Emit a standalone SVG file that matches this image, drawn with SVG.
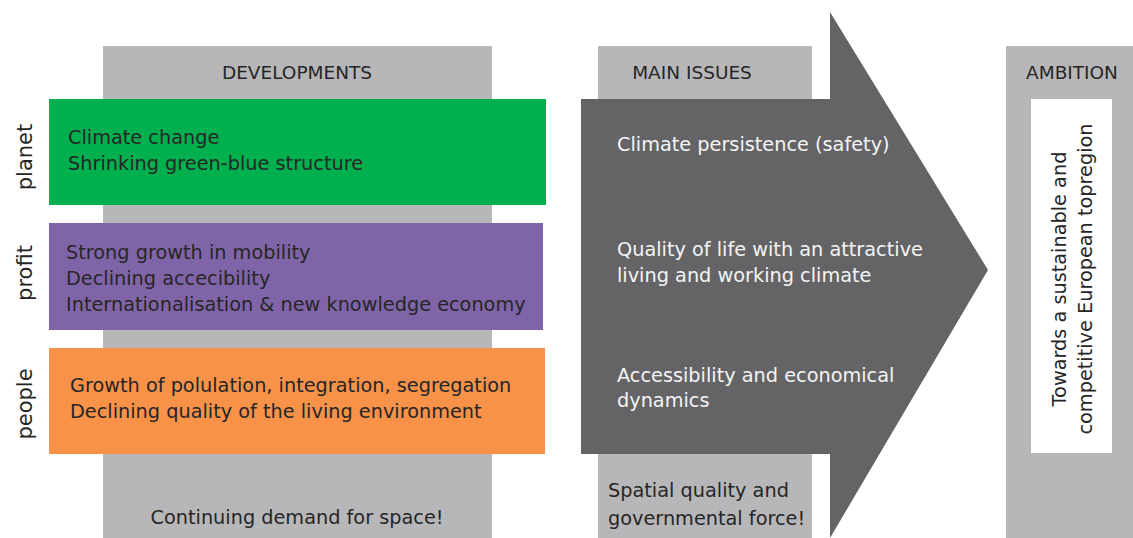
<svg xmlns="http://www.w3.org/2000/svg" width="1133" height="538" viewBox="0 0 1133 538">
  <style>
    .col { fill: #b7b7b9; }
    .t { font-family: "DejaVu Sans", "Liberation Sans", sans-serif; font-size: 19.3px; fill: #262626; }
    .w { fill: #f4f4f4; }
    .head { font-size: 18.5px; text-anchor: middle; }
    .side { font-size: 21px; text-anchor: middle; }
  </style>
  <rect width="1133" height="538" fill="#ffffff"/>

  <!-- Developments column -->
  <g id="developments">
    <rect class="col" x="103" y="46" width="389" height="492"/>
    <text class="t head" x="297" y="79">DEVELOPMENTS</text>
    <text class="t" x="297" y="524" text-anchor="middle">Continuing demand for space!</text>
  </g>

  <g id="planet">
    <rect x="49" y="99" width="497" height="106" fill="#00b04f"/>
    <text class="t side" transform="translate(32,157) rotate(-90)">planet</text>
    <text class="t" x="68" y="144">Climate change</text>
    <text class="t" x="68" y="170">Shrinking green-blue structure</text>
  </g>

  <g id="profit">
    <rect x="49" y="223" width="494" height="107" fill="#8064a8"/>
    <text class="t side" transform="translate(32,273) rotate(-90)">profit</text>
    <text class="t" x="66" y="259">Strong growth in mobility</text>
    <text class="t" x="66" y="285">Declining accecibility</text>
    <text class="t" x="66" y="311">Internationalisation &amp; new knowledge economy</text>
  </g>

  <g id="people">
    <rect x="49" y="348" width="496" height="106" fill="#f79248"/>
    <text class="t side" transform="translate(32,404) rotate(-90)">people</text>
    <text class="t" x="70" y="392">Growth of polulation, integration, segregation</text>
    <text class="t" x="70" y="418">Declining quality of the living environment</text>
  </g>

  <!-- Main issues column with arrow -->
  <g id="main-issues">
    <rect class="col" x="598" y="46" width="214" height="60"/>
    <rect class="col" x="598" y="448" width="214" height="90"/>
    <text class="t head" x="692" y="79">MAIN ISSUES</text>
    <path d="M581,99 H830 V12 L988,270 L830,538 V454 H581 Z" fill="#646466"/>
    <text class="t w" x="617" y="151">Climate persistence (safety)</text>
    <text class="t w" x="617" y="256">Quality of life with an attractive</text>
    <text class="t w" x="617" y="282">living and working climate</text>
    <text class="t w" x="617" y="382">Accessibility and economical</text>
    <text class="t w" x="617" y="407">dynamics</text>
    <text class="t" x="608" y="497">Spatial quality and</text>
    <text class="t" x="608" y="525">governmental force!</text>
  </g>

  <!-- Ambition column -->
  <g id="ambition">
    <rect class="col" x="1006" y="46" width="127" height="492"/>
    <text class="t head" x="1072" y="79">AMBITION</text>
    <rect x="1031" y="99" width="81" height="354" fill="#ffffff"/>
    <text class="t" text-anchor="middle" transform="translate(1066,279) rotate(-90)">Towards a sustainable and</text>
    <text class="t" text-anchor="middle" transform="translate(1092,279) rotate(-90)">competitive European topregion</text>
  </g>
</svg>
